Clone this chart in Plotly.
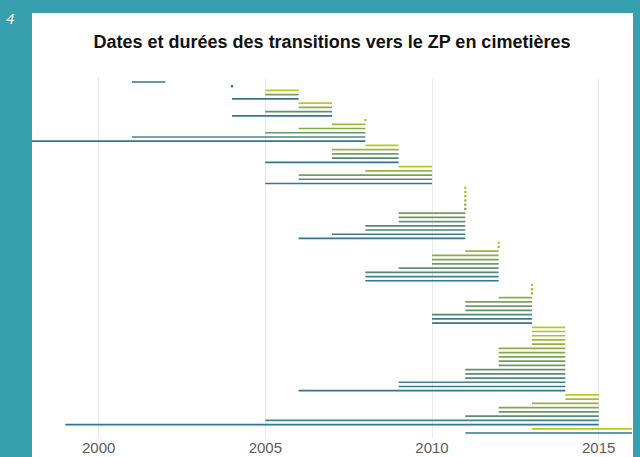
import plotly.graph_objects as go

# Transition periods, one row per cemetery, ordered by end year then by start year (latest first)
group_ends = [2002, 2004, 2006, 2007, 2008, 2009, 2010, 2011, 2012, 2013, 2014, 2015, 2016]
group_starts = [
    [2001],
    [2004],
    [2005, 2005, 2004],
    [2006, 2006, 2005, 2004],
    [2008, 2007, 2006, 2005, 2001, 1998],
    [2008, 2007, 2007, 2007, 2005],
    [2009, 2008, 2006, 2006, 2005],
    [2011, 2011, 2011, 2011, 2011, 2011, 2009, 2009, 2009, 2008, 2008, 2007, 2006],
    [2012, 2012, 2011, 2010, 2010, 2010, 2009, 2008, 2008, 2008],
    [2013, 2013, 2013, 2012, 2011, 2011, 2011, 2010, 2010, 2010],
    [2013, 2013, 2013, 2013, 2013, 2012, 2012, 2012, 2012, 2012, 2011, 2011, 2011, 2009, 2009, 2006],
    [2014, 2014, 2013, 2012, 2012, 2011, 2005, 1999],
    [2013, 2011],
]
x_ticks = [2000, 2005, 2010, 2015]
title_text = "Dates et durées des transitions vers le ZP en cimetières"
page_label = "4"

TEAL_BG = "#37a0ae"
C_LATE = (180, 198, 12)    # latest start within a group
C_EARLY = (34, 106, 140)   # earliest start within a group


def blend(t):
    r, g, b = (round(a + (c - a) * t) for a, c in zip(C_LATE, C_EARLY))
    return f"rgb({r},{g},{b})"


fig = go.Figure()
row = 0
for end, starts in zip(group_ends, group_starts):
    n = len(starts)
    for i, s in enumerate(starts):
        row += 1
        t = 1.0 if n == 1 else i / (n - 1)
        col = blend(t)
        if s == end:
            fig.add_trace(go.Scatter(
                x=[s], y=[row], mode="markers",
                marker=dict(symbol="square", size=2.2, color=col, line=dict(width=0)),
                hoverinfo="skip", showlegend=False))
        else:
            fig.add_trace(go.Scatter(
                x=[s, end], y=[row, row], mode="lines",
                line=dict(color=col, width=1.7),
                opacity=0.92, hoverinfo="skip", showlegend=False))

n_rows = row

# white card behind the chart
fig.add_shape(type="rect", xref="paper", yref="paper",
              x0=0, x1=1.0017, y0=-0.06, y1=1.1806,
              fillcolor="white", line=dict(width=0), layer="below")

fig.add_annotation(text=f"<i>{page_label}</i>", xref="paper", yref="paper",
                   x=-0.035, y=1.168, xanchor="center", yanchor="middle",
                   showarrow=False,
                   font=dict(family="Open Sans, Liberation Sans, sans-serif", size=15,
                             color="white"))

fig.update_layout(
    width=640, height=457,
    margin=dict(l=32, r=8, t=78, b=19, autoexpand=False),
    paper_bgcolor=TEAL_BG,
    plot_bgcolor="white",
    title=dict(text=f"<b>{title_text}</b>", x=0.5, xref="paper",
               y=1 - 42 / 457, yref="container", xanchor="center", yanchor="middle",
               font=dict(family="Liberation Sans, Arial, sans-serif", size=18, color="#111111")),
    xaxis=dict(range=[1998, 2016], tickvals=x_ticks, ticktext=[str(v) for v in x_ticks],
               showgrid=True, gridcolor="#ebebeb", gridwidth=1.3,
               zeroline=False, showline=False, ticks="",
               tickfont=dict(family="Liberation Sans, Arial, sans-serif", size=15, color="#5a5a5a"),
               ticklabelstandoff=-1,
               automargin=False, fixedrange=True),
    yaxis=dict(range=[n_rows + 1.18, 0.054], showgrid=False, zeroline=False,
               showticklabels=False, ticks="", showline=False, automargin=False),
)

fig.write_html("out.html")
